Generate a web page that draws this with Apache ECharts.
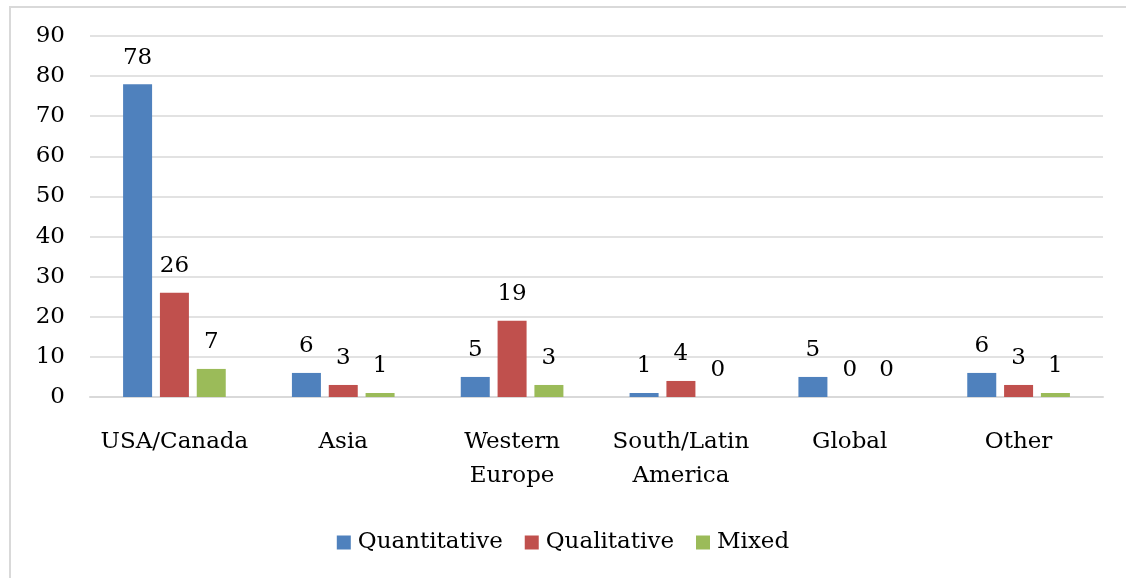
<!DOCTYPE html>
<html><head><meta charset="utf-8">
<script src="https://cdn.jsdelivr.net/npm/echarts@6/dist/echarts.min.js"></script>
<style>html,body{margin:0;padding:0;background:#fff}#c{width:1126px;height:578px}
#frame{position:absolute;left:9px;top:6px;width:1200px;height:700px;border-left:2px solid #d9d9d9;border-top:2px solid #d9d9d9;pointer-events:none}</style>
</head><body><div id="c"></div><div id="frame"></div>
<script>
const categories = ['USA/Canada','Asia','Western\nEurope','South/Latin\nAmerica','Global','Other'];
const quantitative = [78,6,5,1,5,6];
const qualitative = [26,3,19,4,0,3];
const mixed = [7,1,3,0,0,1];
const yTicks = {min:0,max:90,interval:10};
const font = '"DejaVu Serif", serif';
const fs = 23;
const chart = echarts.init(document.getElementById('c'));
const lbl = {show:true,position:'top',distance:15,color:'#000',fontFamily:font,fontSize:fs};
const mk = (name,data,color)=>({name,type:'bar',data,barWidth:29,barGap:'27%',itemStyle:{color},label:lbl});
chart.setOption({
  animation:false,
  textStyle:{fontFamily:font},
  grid:{left:90,right:23,top:36,bottom:181},
  legend:{bottom:19,left:'center',itemWidth:14,itemHeight:14,itemGap:22,icon:'rect',
    textStyle:{fontFamily:font,fontSize:fs,color:'#000',padding:[0,0,0,2]}},
  xAxis:{type:'category',data:categories,axisTick:{show:false},
    axisLine:{lineStyle:{color:'#d9d9d9',width:2}},
    axisLabel:{interval:0,fontFamily:font,fontSize:fs,color:'#000',margin:28,lineHeight:34}},
  yAxis:{type:'value',min:yTicks.min,max:yTicks.max,interval:yTicks.interval,
    axisLine:{show:false},axisTick:{show:false},
    splitLine:{lineStyle:{color:'#d9d9d9',width:1.5}},
    axisLabel:{fontFamily:font,fontSize:fs,color:'#000',margin:25}},
  series:[mk('Quantitative',quantitative,'#4F81BD'),mk('Qualitative',qualitative,'#C0504D'),mk('Mixed',mixed,'#9BBB59')]
});
</script></body></html>
